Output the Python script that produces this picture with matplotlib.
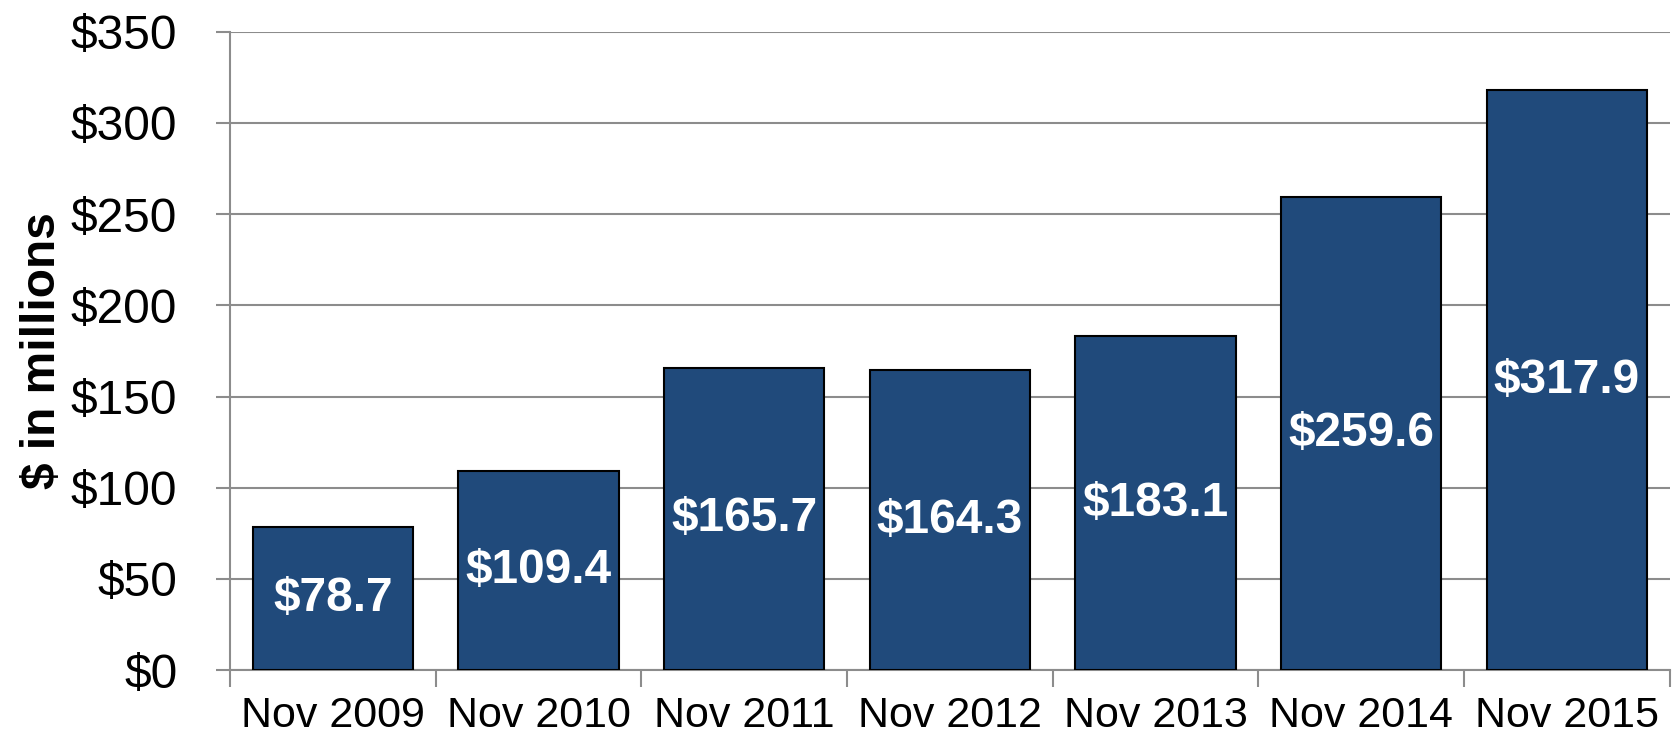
import numpy as np
import matplotlib.pyplot as plt
from matplotlib.ticker import FuncFormatter, FixedLocator

plt.rcParams['font.family'] = ['Liberation Sans', 'DejaVu Sans']

# data
periods = ['Nov 2009', 'Nov 2010', 'Nov 2011', 'Nov 2012', 'Nov 2013', 'Nov 2014', 'Nov 2015']
values = [78.7, 109.4, 165.7, 164.3, 183.1, 259.6, 317.9]
labels = ['$78.7', '$109.4', '$165.7', '$164.3', '$183.1', '$259.6', '$317.9']

fig = plt.figure(figsize=(16.73, 7.38), dpi=100)
ax = fig.add_axes([0.1375, 0.092, 0.8605, 0.865])

x = np.arange(len(periods))
bars = ax.bar(x, values, width=0.78, color='#204a7b', edgecolor='black', linewidth=1.5, zorder=3)

for rect, lab in zip(bars, labels):
    ax.text(rect.get_x() + rect.get_width() / 2, rect.get_height() / 2, lab,
            ha='center', va='center', color='white', fontsize=34.5, fontweight='bold', zorder=4)

ax.set_xlim(-0.5, len(periods) - 0.5)
ax.set_ylim(0, 350)
ax.set_yticks(np.arange(0, 351, 50))
ax.yaxis.set_major_formatter(FuncFormatter(lambda v, p: '${:.0f}'.format(v)))
ax.grid(axis='y', color='#8c8c8c', linewidth=1.5, zorder=0)

# category labels centred, tick marks on the boundaries
ax.set_xticks(x)
ax.set_xticklabels(periods, fontsize=31)
ax.tick_params(axis='x', which='major', length=0, pad=19)
ax.xaxis.set_minor_locator(FixedLocator(np.arange(-0.5, len(periods), 1.0)))
ax.tick_params(axis='x', which='minor', length=12, width=1.5, color='#8c8c8c')
ax.tick_params(axis='y', labelsize=34.5, length=10, width=1.5, color='#8c8c8c', pad=28)

for s in ['top', 'right']:
    ax.spines[s].set_visible(False)
for s in ['left', 'bottom']:
    ax.spines[s].set_color('#8c8c8c')
    ax.spines[s].set_linewidth(1.5)

ax.set_ylabel('$ in millions', fontsize=34.5, fontweight='bold', labelpad=4)

fig.savefig('out.png', dpi=100)
